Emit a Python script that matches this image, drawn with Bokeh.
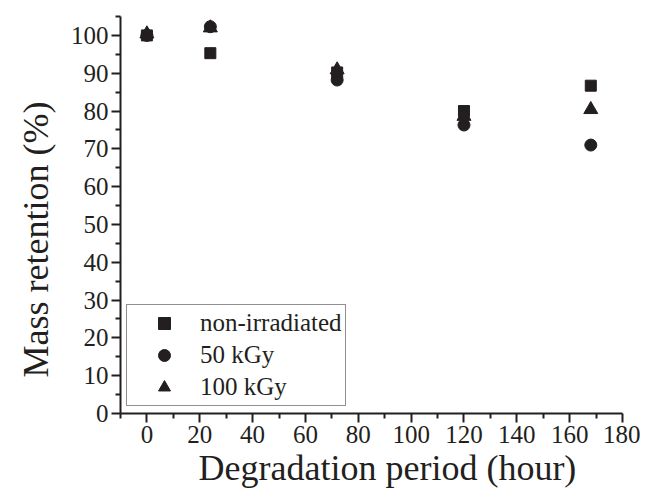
from bokeh.plotting import figure
from bokeh.models import Range1d, FixedTicker, Legend, LegendItem, Title
from bokeh.embed import file_html
from bokeh.resources import INLINE

# Data
hours = [0, 24, 72, 120, 168]
non_irradiated = [100.0, 95.3, 90.2, 80.0, 86.7]
kgy50 = [100.0, 102.3, 88.2, 76.3, 71.0]
kgy100 = [100.4, 102.0, 90.9, 78.6, 80.4]

x_ticks = [0, 20, 40, 60, 80, 100, 120, 140, 160, 180]
y_ticks = [0, 10, 20, 30, 40, 50, 60, 70, 80, 90, 100]
x_minor = [-10, 10, 30, 50, 70, 90, 110, 130, 150, 170]
y_minor = [5, 15, 25, 35, 45, 55, 65, 75, 85, 95, 105]

x_title = "Degradation period (hour)"
y_title = "Mass retention (%)"

FONT = "'Liberation Serif', 'Times New Roman', serif"
INK = "#231f20"

p = figure(width=640, height=489, output_backend="svg", toolbar_location=None,
           x_range=Range1d(-10, 180), y_range=Range1d(0, 105),
           min_border_left=120, min_border_right=18, min_border_top=16, min_border_bottom=76)
p.outline_line_color = None
p.grid.visible = False
p.background_fill_color = None
p.border_fill_color = "white"

sq = p.scatter(hours, non_irradiated, marker="square", size=11, color=INK)
ci = p.scatter(hours, kgy50, marker="circle", size=12, color=INK)
tr = p.scatter(hours, kgy100, marker="triangle", size=14, color=INK)

for ax, ticks, minor in ((p.xaxis[0], x_ticks, x_minor), (p.yaxis[0], y_ticks, y_minor)):
    ax.ticker = FixedTicker(ticks=ticks, minor_ticks=minor)
    ax.axis_line_width = 2
    ax.axis_line_color = INK
    ax.major_tick_line_width = 2
    ax.minor_tick_line_width = 2
    ax.major_tick_line_color = INK
    ax.minor_tick_line_color = INK
    ax.major_tick_out = 9
    ax.major_tick_in = 0
    ax.minor_tick_out = 5
    ax.minor_tick_in = 0
    ax.major_label_text_font = FONT
    ax.major_label_text_font_size = "25px"
    ax.major_label_text_color = INK

p.xaxis.major_label_standoff = 3
p.yaxis.major_label_standoff = 3

# Axis titles as side titles (offset like the reference)
p.add_layout(Title(text=x_title, align="left", offset=78, standoff=0,
                   text_font=FONT, text_font_size="36px", text_font_style="normal",
                   text_color=INK), "below")
p.add_layout(Title(text=y_title, align="left", offset=36, standoff=24,
                   text_font=FONT, text_font_size="36px", text_font_style="normal",
                   text_color=INK), "left")

legend = Legend(items=[
    LegendItem(label="non-irradiated", renderers=[sq]),
    LegendItem(label="50 kGy", renderers=[ci]),
    LegendItem(label="100 kGy", renderers=[tr]),
], location=(6, 7))
legend.label_text_font = FONT
legend.label_text_font_size = "25px"
legend.label_text_color = INK
legend.padding = 3
legend.glyph_width = 68
legend.glyph_height = 30
legend.label_height = 30
legend.label_standoff = 2
legend.spacing = 2
legend.border_line_color = INK
legend.border_line_width = 1
legend.background_fill_alpha = 1
legend.margin = 0
p.add_layout(legend)

open("out.html", "w").write(file_html(p, INLINE))
